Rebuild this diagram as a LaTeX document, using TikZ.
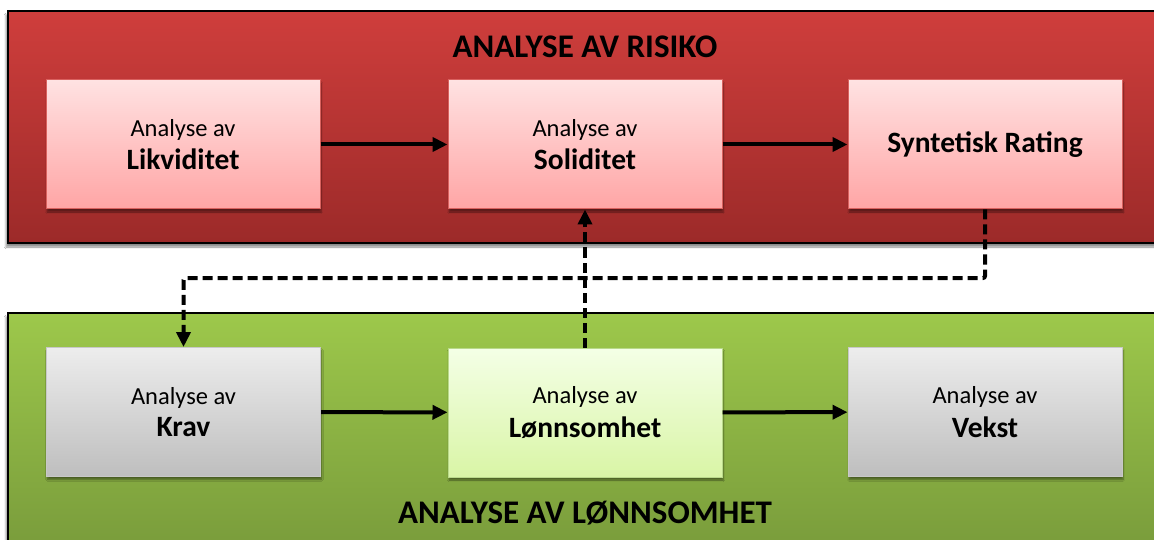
\documentclass[tikz,border=0pt]{standalone}
\usepackage{fontspec}
\setmainfont{Carlito}
\usetikzlibrary{arrows.meta,shadows.blur}

\definecolor{redtop}{HTML}{CF3E3C}
\definecolor{redbot}{HTML}{9C2A29}
\definecolor{greentop}{HTML}{9DC84B}
\definecolor{greenbot}{HTML}{76983A}
\definecolor{pinktop}{HTML}{FFE2E2}
\definecolor{pinkbot}{HTML}{FFA5A5}
\definecolor{pinkedge}{HTML}{D9615E}
\definecolor{greytop}{HTML}{EDEDED}
\definecolor{greybot}{HTML}{BEBEBE}
\definecolor{greyedge}{HTML}{C8C8C8}
\definecolor{limetop}{HTML}{F4FFE6}
\definecolor{limebot}{HTML}{D9F5A6}
\definecolor{limeedge}{HTML}{B9D98A}

\tikzset{
  panel/.style={draw=black, line width=1.2pt,
    blur shadow={shadow xshift=-2pt, shadow yshift=-4pt, shadow blur steps=6, shadow opacity=45}},
  card/.style={minimum width=274pt, minimum height=129pt, inner sep=0pt, align=center,
    line width=1pt,
    blur shadow={shadow xshift=1pt, shadow yshift=-3pt, shadow blur steps=5, shadow opacity=45}},
  riskcard/.style={card, draw=pinkedge, top color=pinktop, bottom color=pinkbot},
  greycard/.style={card, draw=greyedge, top color=greytop, bottom color=greybot},
  limecard/.style={card, draw=limeedge, top color=limetop, bottom color=limebot},
  flow/.style={line width=4pt, -{Triangle[length=15pt,width=14pt]}},
  link/.style={line width=4pt, dash pattern=on 10pt off 5pt, rounded corners=2pt,
    -{Triangle[length=15pt,width=14pt]}},
  paneltitle/.style={font=\fontsize{33}{40}\selectfont\bfseries, inner sep=0pt},
}
\newcommand{\cardtext}[1]{{\fontsize{24.5}{29}\selectfont Analyse av}\\[8pt]{\fontsize{29.5}{35}\selectfont\bfseries #1}}

\begin{document}
\begin{tikzpicture}[x=1pt, y=-1pt]
\useasboundingbox (0,0) rectangle (1154,540);
\fill[white] (0,0) rectangle (1154,540);

% the two panels, cut by the page edge
\begin{scope}
  \clip (0,0) rectangle (1154,540);
  \path[panel, top color=redtop, bottom color=redbot] (8,11) rectangle (1175,243);
  \path[panel, top color=greentop, bottom color=greenbot] (8,313) rectangle (1175,570);
\end{scope}

\node[paneltitle] (risktitle) at (585,47) {ANALYSE AV RISIKO};
\node[paneltitle] (profittitle) at (585,513) {ANALYSE AV LØNNSOMHET};

% risk row
\node[riskcard] (likv) at (183,144.5) {\cardtext{Likviditet}};
\node[riskcard] (soli) at (585,144.5) {\cardtext{Soliditet}};
\node[riskcard] (rating) at (985,144.5) {{\fontsize{29.5}{35}\selectfont\bfseries Syntetisk Rating}};

% profitability row
\node[greycard] (krav) at (183.5,412) {\cardtext{Krav}};
\node[limecard] (lonn) at (585,412.5) {\cardtext{Lønnsomhet}};
\node[greycard] (vekst) at (985,412) {\cardtext{Vekst}};

\coordinate (lane) at (0,278);

\draw[flow] (likv) -- (soli);
\draw[flow] (soli) -- (rating);
\draw[flow] (krav) -- (lonn);
\draw[flow] (lonn) -- (vekst);

\draw[link] (rating.south) -- (rating.south |- lane) -- (krav.north |- lane) -- (krav.north);
\draw[link] (lonn.north) -- (soli.south);
\end{tikzpicture}
\end{document}
